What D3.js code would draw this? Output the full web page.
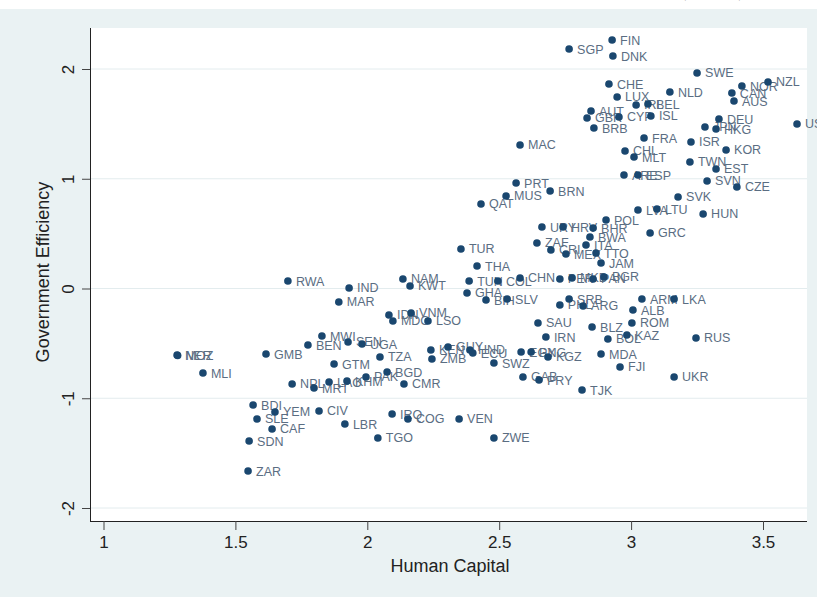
<!DOCTYPE html>
<html>
<head>
<meta charset="utf-8">
<script src="https://cdn.jsdelivr.net/npm/d3@7"></script>
<style>
  body { margin: 0; background: #fff; }
  text { font-family: Arial, "Liberation Sans", sans-serif; }
</style>
</head>
<body>
<div id="chart"></div>
<script>
// country codes, human capital, government efficiency
let codes = ["FIN","SGP","DNK","SWE","CHE","NLD","NZL","NOR","CAN","AUS","LUX","IRL","BEL","AUT","ISL","GBR","CYP","BRB","DEU","JPN","HKG","USA","FRA","MAC","ISR","CHL","MLT","KOR","TWN","EST","SVN","CZE","ARE","ESP","PRT","MUS","BRN","QAT","SVK","LVA","LTU","HUN","POL","URY","HRV","BHR","BWA","GRC","TUR","ZAF","CRI","MEX","ITA","TTO","JAM","THA","NAM","KWT","TUN","COL","CHN","PER","MKD","PAN","BGR","GHA","BIH","SLV","PHL","SRB","ARG","ARM","LKA","ALB","SAU","ROM","BLZ","IRN","BOL","KAZ","RUS","KEN","ZMB","GUY","HND","ECU","EGY","PNG","KGZ","SWZ","MDA","FJI","GAB","PRY","UKR","TJK","RWA","IND","MAR","IDN","MDG","VNM","LSO","MWI","SEN","UGA","BEN","NER","MOZ","MLI","GMB","TZA","GTM","BGD","PAK","NPL","MRT","LAO","KHM","CMR","BDI","YEM","SLE","CAF","CIV","LBR","SDN","IRQ","COG","TGO","VEN","ZWE","ZAR"];

let humanCapital = [2.928,2.765,2.931,3.250,2.916,3.147,3.519,3.420,3.382,3.390,2.947,3.019,3.064,2.848,3.075,2.833,2.954,2.859,3.333,3.280,3.322,3.629,3.049,2.579,3.227,2.977,3.011,3.360,3.223,3.322,3.288,3.401,2.973,3.026,2.564,2.526,2.693,2.431,3.178,3.026,3.098,3.273,2.905,2.662,2.742,2.856,2.844,3.072,2.355,2.643,2.696,2.753,2.829,2.867,2.886,2.416,2.135,2.162,2.386,2.495,2.579,2.730,2.776,2.856,2.897,2.378,2.450,2.530,2.730,2.765,2.818,3.041,3.163,3.007,2.647,3.003,2.852,2.677,2.912,2.984,3.246,2.241,2.245,2.306,2.389,2.400,2.583,2.621,2.685,2.480,2.886,2.958,2.590,2.651,3.163,2.814,1.699,1.931,1.892,2.082,2.097,2.166,2.230,1.828,1.927,1.980,1.775,1.279,1.281,1.377,1.616,2.048,1.874,2.075,1.995,1.715,1.798,1.855,1.923,2.139,1.567,1.650,1.582,1.639,1.817,1.915,1.552,2.094,2.154,2.040,2.348,2.480,1.548];

let govEfficiency = [2.264,2.182,2.118,1.964,1.863,1.790,1.882,1.845,1.781,1.708,1.745,1.672,1.681,1.617,1.572,1.554,1.563,1.462,1.544,1.472,1.453,1.499,1.371,1.308,1.335,1.253,1.198,1.262,1.153,1.089,0.980,0.925,1.034,1.034,0.961,0.843,0.888,0.770,0.834,0.715,0.724,0.679,0.624,0.560,0.560,0.551,0.469,0.506,0.360,0.415,0.351,0.314,0.396,0.323,0.232,0.205,0.087,0.023,0.068,0.068,0.096,0.087,0.096,0.087,0.105,-0.041,-0.105,-0.096,-0.150,-0.096,-0.159,-0.096,-0.096,-0.196,-0.314,-0.314,-0.351,-0.442,-0.460,-0.424,-0.451,-0.560,-0.642,-0.533,-0.560,-0.588,-0.579,-0.579,-0.624,-0.679,-0.597,-0.715,-0.806,-0.834,-0.806,-0.925,0.068,0.005,-0.123,-0.241,-0.296,-0.223,-0.296,-0.433,-0.487,-0.506,-0.515,-0.606,-0.610,-0.770,-0.597,-0.624,-0.688,-0.761,-0.806,-0.870,-0.907,-0.852,-0.843,-0.870,-1.062,-1.125,-1.189,-1.280,-1.116,-1.235,-1.390,-1.144,-1.189,-1.362,-1.189,-1.362,-1.663];

let xTicks = [1, 1.5, 2, 2.5, 3, 3.5];
let yTicks = [-2, -1, 0, 1, 2];

let width = 817, height = 597;
let margin = {top: 28, right: 10, bottom: 76, left: 90};

let svg = d3.select("#chart").append("svg")
  .attr("width", width)
  .attr("height", height);

// outer graph region
svg.append("rect")
  .attr("x", 0).attr("y", 9)
  .attr("width", width).attr("height", height - 9)
  .attr("fill", "#eaf2f3");

// title, mostly cut off at the top
svg.append("text")
  .attr("x", 78).attr("y", -5)
  .style("font-family", "'Liberation Serif', 'Times New Roman', serif")
  .style("font-weight", "bold")
  .style("font-size", "26px")
  .attr("fill", "#000")
  .text("Figure 1: Government Efficiency and Human Capital (2000)");

let plotW = width - margin.left - margin.right;
let plotH = height - margin.top - margin.bottom;

let x = d3.scaleLinear()
  .domain([1 + (90 - 103.5) / 263.8, 1 + (807 - 103.5) / 263.8])
  .range([0, plotW]);

let y = d3.scaleLinear()
  .domain([(288.5 - 521) / 109.75, (288.5 - 28) / 109.75])
  .range([plotH, 0]);

let g = svg.append("g")
  .attr("transform", "translate(" + margin.left + "," + margin.top + ")");

g.append("rect")
  .attr("width", plotW).attr("height", plotH)
  .attr("fill", "#fff");

// horizontal grid
g.selectAll(".grid")
  .data(yTicks)
  .enter().append("line")
  .attr("x1", 0).attr("x2", plotW)
  .attr("y1", d => y(d)).attr("y2", d => y(d))
  .attr("stroke", "#e3ecee")
  .attr("stroke-width", 1);

// axes
let xAxis = d3.axisBottom(x).tickValues(xTicks)
  .tickFormat(d => String(d)).tickSize(9).tickPadding(6);
let yAxis = d3.axisLeft(y).tickValues(yTicks)
  .tickFormat(d => String(d)).tickSize(8).tickPadding(8);

let xg = g.append("g")
  .attr("transform", "translate(0," + plotH + ")")
  .call(xAxis);
xg.select(".domain").attr("d", "M0,0.5H" + plotW).attr("stroke", "#222");
xg.selectAll(".tick line").attr("stroke", "#444");
xg.selectAll(".tick text")
  .style("font-size", "17px").attr("fill", "#222");

let yg = g.append("g").call(yAxis);
yg.select(".domain").attr("d", "M0.5,0V" + plotH).attr("stroke", "#222");
yg.selectAll(".tick line").attr("stroke", "#444");
yg.selectAll(".tick text")
  .style("font-size", "17px").attr("fill", "#222")
  .attr("text-anchor", "middle")
  .attr("dy", null)
  .attr("transform", "translate(-22,0) rotate(-90)")
  .attr("x", 0)
  .attr("y", 6);

// axis titles
svg.append("text")
  .attr("x", 450).attr("y", 572)
  .attr("text-anchor", "middle")
  .style("font-size", "18px")
  .attr("fill", "#222")
  .text("Human Capital");

svg.append("text")
  .attr("transform", "translate(49,272) rotate(-90)")
  .attr("text-anchor", "middle")
  .style("font-size", "18px")
  .attr("fill", "#222")
  .text("Government Efficiency");

let data = codes.map((c, i) => ({code: c, hc: humanCapital[i], ge: govEfficiency[i]}));

// labels first so dots sit on top of overlapping text
g.selectAll(".lab")
  .data(data)
  .enter().append("text")
  .attr("x", d => x(d.hc) + 8)
  .attr("y", d => y(d.ge) + 4.5)
  .style("font-size", "12.5px")
  .attr("fill", "#5a6d82")
  .text(d => d.code);

g.selectAll(".dot")
  .data(data)
  .enter().append("circle")
  .attr("cx", d => x(d.hc))
  .attr("cy", d => y(d.ge))
  .attr("r", 3.8)
  .attr("fill", "#1a476f");
</script>
</body>
</html>
